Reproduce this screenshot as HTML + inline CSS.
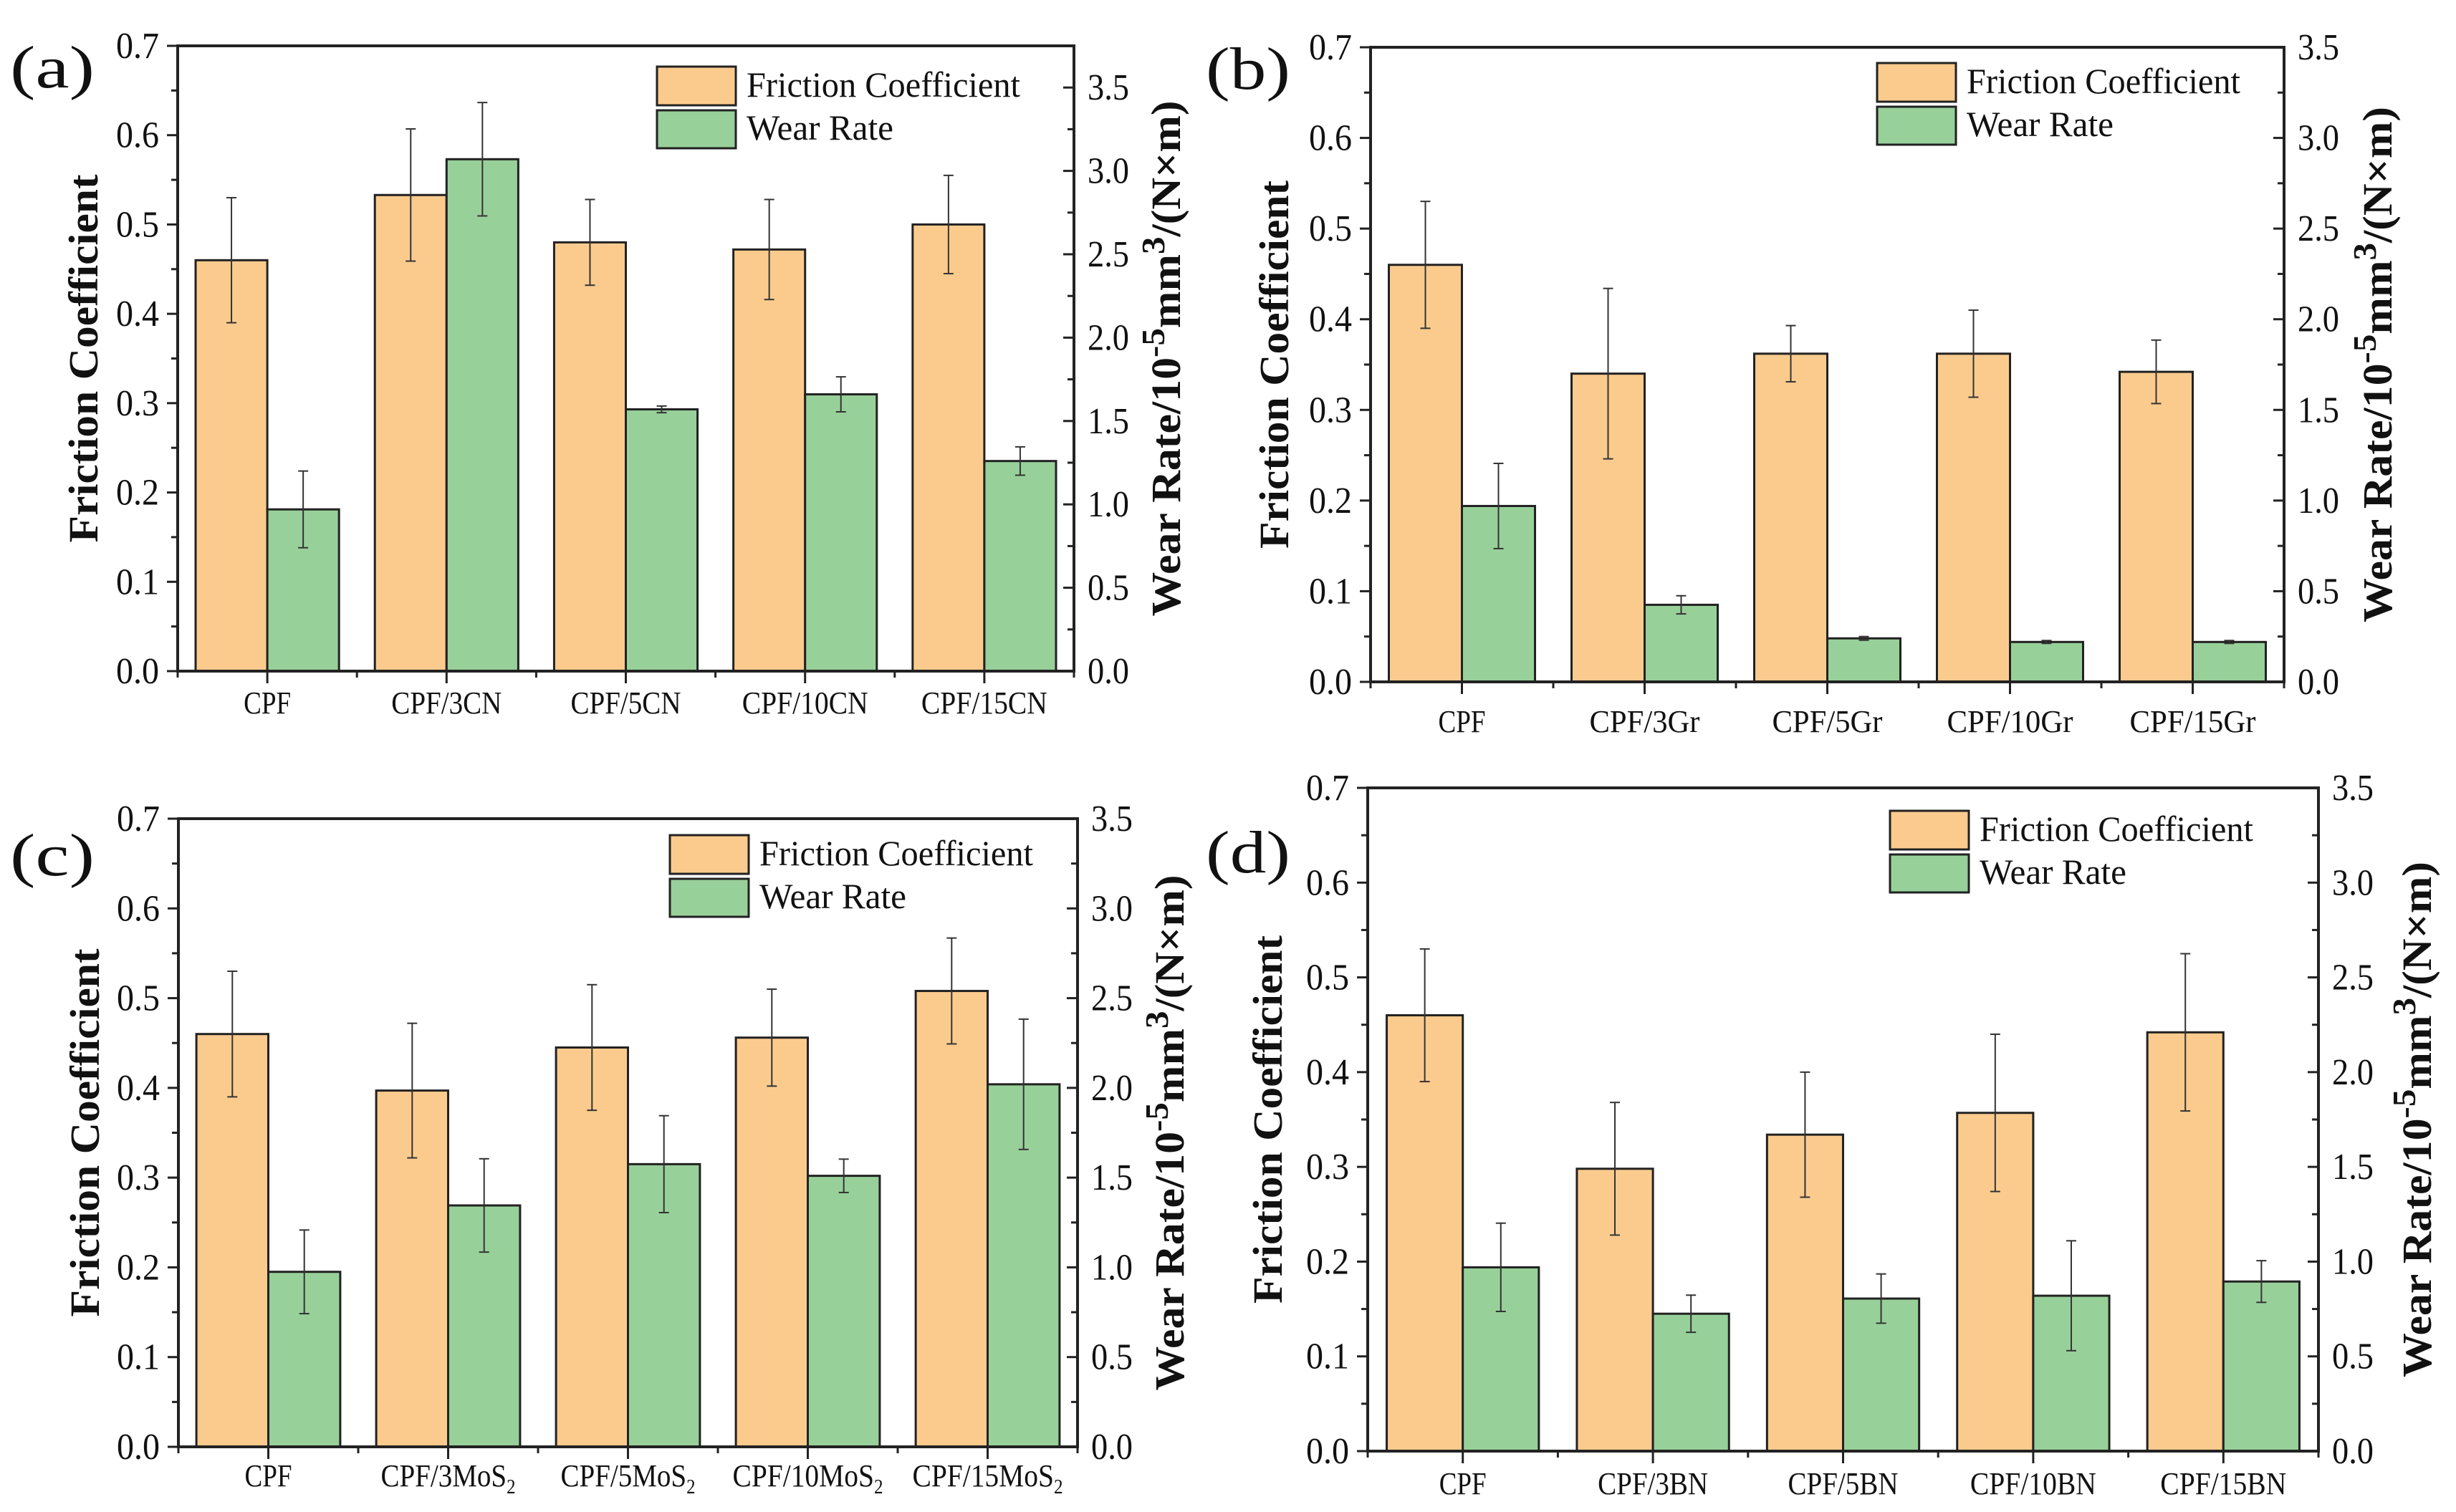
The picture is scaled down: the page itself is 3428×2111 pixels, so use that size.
<!DOCTYPE html>
<html><head><meta charset="utf-8">
<style>
html,body{margin:0;padding:0;background:#fff;}
svg{display:block;}
text{font-family:"Liberation Serif","Times New Roman",serif;fill:#111;}
</style></head>
<body>
<svg id="fig" width="3428" height="2111" viewBox="0 0 3428 2111" xmlns="http://www.w3.org/2000/svg"></svg>
<script>
// ---- data ----
const catsA = ["CPF","CPF/3CN","CPF/5CN","CPF/10CN","CPF/15CN"];
const fcA = [0.46,0.533,0.48,0.472,0.50];
const fcErrA = [0.07,0.074,0.048,0.056,0.055];
const wrA = [0.97,3.07,1.57,1.66,1.26];
const wrErrA = [0.23,0.34,0.02,0.105,0.085];

const catsB = ["CPF","CPF/3Gr","CPF/5Gr","CPF/10Gr","CPF/15Gr"];
const fcB = [0.46,0.34,0.362,0.362,0.342];
const fcErrB = [0.07,0.094,0.031,0.048,0.035];
const wrB = [0.97,0.425,0.24,0.22,0.22];
const wrErrB = [0.235,0.05,0.01,0.008,0.008];

const catsC = ["CPF","CPF/3MoS|2","CPF/5MoS|2","CPF/10MoS|2","CPF/15MoS|2"];
const fcC = [0.46,0.397,0.445,0.456,0.508];
const fcErrC = [0.07,0.075,0.07,0.054,0.059];
const wrC = [0.975,1.345,1.575,1.51,2.02];
const wrErrC = [0.233,0.26,0.27,0.093,0.363];

const catsD = ["CPF","CPF/3BN","CPF/5BN","CPF/10BN","CPF/15BN"];
const fcD = [0.46,0.298,0.334,0.357,0.442];
const fcErrD = [0.07,0.07,0.066,0.083,0.083];
const wrD = [0.97,0.725,0.805,0.82,0.895];
const wrErrD = [0.233,0.098,0.13,0.29,0.11];

const leftTicks = [0,0.1,0.2,0.3,0.4,0.5,0.6,0.7];
const rightTicks = [0,0.5,1.0,1.5,2.0,2.5,3.0,3.5];

const NS = "http://www.w3.org/2000/svg";
const svg = document.getElementById("fig");
function mk(tag, attrs, parent){
  const e = document.createElementNS(NS, tag);
  for (const k in attrs) e.setAttribute(k, attrs[k]);
  (parent||svg).appendChild(e);
  return e;
}
const ORANGE = "#FBCB8E", GREEN = "#98D09A";

function panel(P){
  const g = mk("g", {});
  
  
  const yL = v => P.B - (v/0.7)*(P.B-P.T);
  const yR = v => P.B - (v/P.rMax)*(P.B-P.T);
  const n = P.cats.length, cw = (P.R-P.L)/n, bw = cw*0.4;
  const xc = i => P.L + cw*(i+0.5);

  for (let i=0;i<n;i++){
    const ob = mk("rect",{x:xc(i)-bw,y:yL(P.fc[i]),width:bw,height:P.B-yL(P.fc[i]),fill:ORANGE,stroke:"#222","stroke-width":3},g);
    
    
    const gb = mk("rect",{x:xc(i),y:yR(P.wr[i]),width:bw,height:P.B-yR(P.wr[i]),fill:GREEN,stroke:"#222","stroke-width":3},g);
    
    
  }
  function eb(x, y1, y2, nm){
    const e = mk("g",{stroke:"#333","stroke-width":2},g);
    
    
    mk("line",{x1:x,x2:x,y1:y1,y2:y2},e);
    mk("line",{x1:x-7,x2:x+7,y1:y1,y2:y1},e);
    mk("line",{x1:x-7,x2:x+7,y1:y2,y2:y2},e);
  }
  for (let i=0;i<n;i++){
    eb(xc(i)-bw/2, yL(P.fc[i]+P.fcErr[i]), yL(P.fc[i]-P.fcErr[i]), 'friction-error-bar');
    eb(xc(i)+bw/2, yR(P.wr[i]+P.wrErr[i]), yR(P.wr[i]-P.wrErr[i]), 'wear-rate-error-bar');
  }
  const fr = mk("rect",{x:P.L,y:P.T,width:P.R-P.L,height:P.B-P.T,fill:"none",stroke:"#222","stroke-width":4},g);
  
  
  for (let k=0;k<leftTicks.length;k++){
    const v = leftTicks[k], y = yL(v);
    mk("line",{x1:P.L-15,x2:P.L,y1:y,y2:y,stroke:"#222","stroke-width":3},g);
    if (k<leftTicks.length-1) mk("line",{x1:P.L-9,x2:P.L,y1:yL(v+0.05),y2:yL(v+0.05),stroke:"#222","stroke-width":3},g);
    const t = mk("text",{x:P.L-86,y:y+17,"font-size":52,textLength:60,lengthAdjust:"spacingAndGlyphs"},g);
    t.textContent = v.toFixed(1);
    
    
  }
  for (let k=0;k<rightTicks.length;k++){
    const v = rightTicks[k], y = yR(v);
    mk("line",{x1:P.R-15,x2:P.R,y1:y,y2:y,stroke:"#222","stroke-width":3},g);
    if (yR(v+0.25) > P.T+2) mk("line",{x1:P.R-9,x2:P.R,y1:yR(v+0.25),y2:yR(v+0.25),stroke:"#222","stroke-width":3},g);
    const t = mk("text",{x:P.R+19,y:y+17,"font-size":52,textLength:58,lengthAdjust:"spacingAndGlyphs"},g);
    t.textContent = v.toFixed(1);
    
    
  }
  for (let i=0;i<=n;i++){
    const x = P.L + cw*i;
    mk("line",{x1:x,x2:x,y1:P.B,y2:P.B+9,stroke:"#222","stroke-width":3},g);
  }
  for (let i=0;i<n;i++){
    mk("line",{x1:xc(i),x2:xc(i),y1:P.B,y2:P.B+17,stroke:"#222","stroke-width":3},g);
    const parts = P.cats[i].split("|");
    const len = parts[0].length*22 + (parts[1] ? 12 : 0);
    const t = mk("text",{x:xc(i)-len/2,y:P.labY,"font-size":44,textLength:len,lengthAdjust:"spacingAndGlyphs"},g);
    
    
    const s1 = mk("tspan",{},t); s1.textContent = parts[0];
    if (parts[1]){ const s2 = mk("tspan",{"font-size":28,dy:10},t); s2.textContent = parts[1]; }
  }
  const lt = mk("text",{x:0,y:0,"text-anchor":"middle","font-size":58,"font-weight":"bold",textLength:514,lengthAdjust:"spacingAndGlyphs",
    transform:`translate(${P.ltX},${(P.T+P.B)/2}) rotate(-90)`},g);
  lt.textContent = "Friction Coefficient";
  
  
  const rt = mk("text",{x:-360,y:0,"font-size":58,"font-weight":"bold",textLength:720,lengthAdjust:"spacingAndGlyphs",
    transform:`translate(${P.rtX},${(P.T+P.B)/2}) rotate(-90)`},g);
  
  
  const a1 = mk("tspan",{},rt); a1.textContent = "Wear Rate/10";
  const a2 = mk("tspan",{dy:-22,"font-size":46},rt); a2.textContent = "-5";
  const a3 = mk("tspan",{dy:22},rt); a3.textContent = "mm";
  const a4 = mk("tspan",{dy:-22,"font-size":46},rt); a4.textContent = "3";
  const a5 = mk("tspan",{dy:22},rt); a5.textContent = "/(N×m)";
  const lg = mk("g",{},g);
  
  
  mk("rect",{x:P.lgX,y:P.lgY,width:110,height:54,fill:ORANGE,stroke:"#222","stroke-width":3},lg);
  mk("rect",{x:P.lgX,y:P.lgY+61,width:110,height:53,fill:GREEN,stroke:"#222","stroke-width":3},lg);
  const l1 = mk("text",{x:P.lgX+125,y:P.lgY+42,"font-size":50,textLength:382,lengthAdjust:"spacingAndGlyphs"},lg);
  l1.textContent = "Friction Coefficient";
  
  
  const l2 = mk("text",{x:P.lgX+125,y:P.lgY+102,"font-size":50,textLength:205,lengthAdjust:"spacingAndGlyphs"},lg);
  l2.textContent = "Wear Rate";
  
  
  const pl = mk("text",{x:P.pX,y:P.pY,"font-size":84,textLength:118,lengthAdjust:"spacingAndGlyphs"},g);
  pl.textContent = "(" + P.id + ")";
  
  
}

panel({id:"a",L:248,R:1499,T:64,B:937,rMax:3.75,cats:catsA,fc:fcA,fcErr:fcErrA,wr:wrA,wrErr:wrErrA,
  labY:996,ltX:136,rtX:1647,lgX:917,lgY:93,pX:14,pY:122});
panel({id:"b",L:1913,R:3188,T:66,B:952,rMax:3.5,cats:catsB,fc:fcB,fcErr:fcErrB,wr:wrB,wrErr:wrErrB,
  labY:1022,ltX:1798,rtX:3338,lgX:2620,lgY:88,pX:1683,pY:124});
panel({id:"c",L:249,R:1504,T:1143,B:2020,rMax:3.5,cats:catsC,fc:fcC,fcErr:fcErrC,wr:wrC,wrErr:wrErrC,
  labY:2075,ltX:138,rtX:1652,lgX:935,lgY:1166,pX:14,pY:1222});
panel({id:"d",L:1909,R:3236,T:1100,B:2026,rMax:3.5,cats:catsD,fc:fcD,fcErr:fcErrD,wr:wrD,wrErr:wrErrD,
  labY:2086,ltX:1789,rtX:3393,lgX:2638,lgY:1132,pX:1683,pY:1218});
</script>
</body></html>
